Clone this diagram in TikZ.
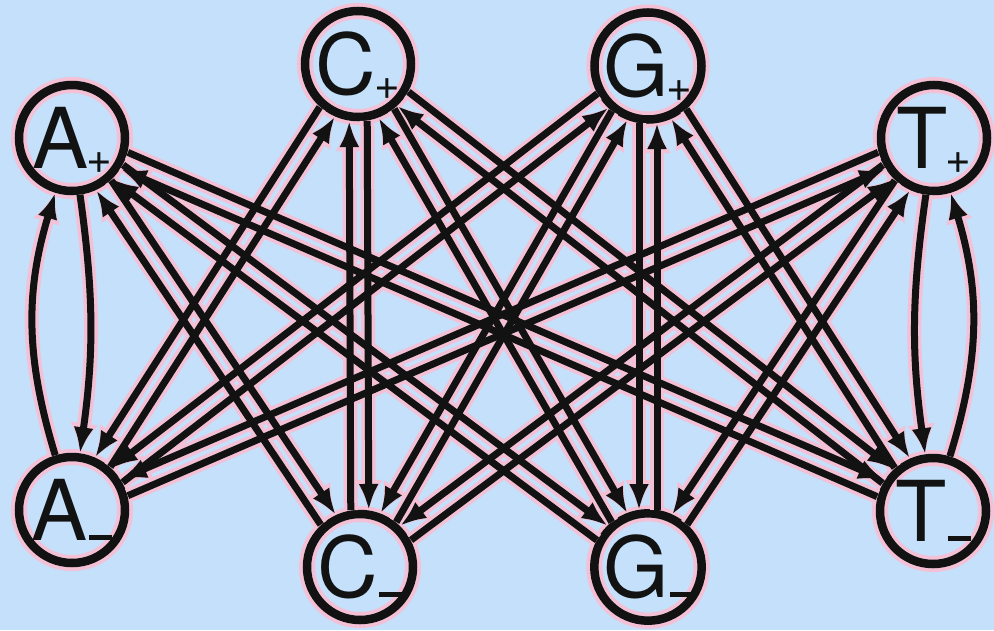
\documentclass[tikz,border=0pt]{standalone}
\usepackage{fontspec}
\usepackage{tikz}
\usetikzlibrary{arrows.meta,calc}
\newfontfamily\etiketFont{TeX Gyre Heros}
\definecolor{acikMavi}{HTML}{C4E0FA}
\definecolor{pembe}{HTML}{F3C0D6}
\definecolor{koyuSiyah}{HTML}{121212}
\newcommand{\arti}{\kern-2pt\raisebox{-5pt}{\fontsize{44pt}{44pt}\selectfont +}}
\newcommand{\eksi}{\kern1pt\rule{23pt}{5pt}}

\begin{document}
\begin{tikzpicture}[x=1pt,y=-1pt,
  durum/.style={circle,draw=koyuSiyah,line width=8.5pt,minimum size=106pt,inner sep=0pt,
    text height=60pt,text depth=0pt,text=koyuSiyah,
    font={\etiketFont\fontsize{84pt}{84pt}\selectfont},
    preaction={draw=pembe,line width=16pt}},
  gecis/.style={draw=koyuSiyah,line width=7pt,-{Latex[length=26pt,width=20pt]}},
  hale/.style={draw=pembe,line width=14pt,-{Latex[length=30pt,width=28pt]}},
  kisalt/.style={shorten <=57pt,shorten >=57pt}]
\useasboundingbox (0,0) rectangle (994,630);
\fill[acikMavi] (0,0) rectangle (994,630);

% ust sira (+) ve alt sira (-)
\node[durum] (Ap) at (72,138) {A\arti};
\node[durum] (Cp) at (358,64) {C\arti};
\node[durum] (Gp) at (648,66) {G\arti};
\node[durum] (Tp) at (934,138) {T\arti};
\node[durum] (Am) at (72,510) {A\eksi};
\node[durum] (Cm) at (360,567) {C\eksi};
\node[durum] (Gm) at (648,567) {G\eksi};
\node[durum] (Tm) at (933,511) {T\eksi};

% once pembe hale, sonra siyah oklar
\foreach \katman in {hale,gecis}{
  \foreach \u/\a/\o in {Ap/Cm/9pt,Ap/Gm/9pt,Ap/Tm/9pt,
                        Cp/Am/-9pt,Cp/Cm/9pt,Cp/Gm/9pt,Cp/Tm/9pt,
                        Gp/Am/-9pt,Gp/Cm/-9pt,Gp/Gm/-9pt,Gp/Tm/9pt,
                        Tp/Am/-9pt,Tp/Cm/-9pt,Tp/Gm/-9pt}{
    \draw[\katman,kisalt] ($(\u)!\o!90:(\a)$) -- ($(\a)!\o!-90:(\u)$);
    \draw[\katman,kisalt] ($(\a)!\o!90:(\u)$) -- ($(\u)!\o!-90:(\a)$);
  }
  \draw[\katman] (Am) to[bend left=17] (Ap);
  \draw[\katman] (Ap) to[bend left=8] (Am);
  \draw[\katman] (Tm) to[bend right=17] (Tp);
  \draw[\katman] (Tp) to[bend right=8] (Tm);
}
\end{tikzpicture}
\end{document}
